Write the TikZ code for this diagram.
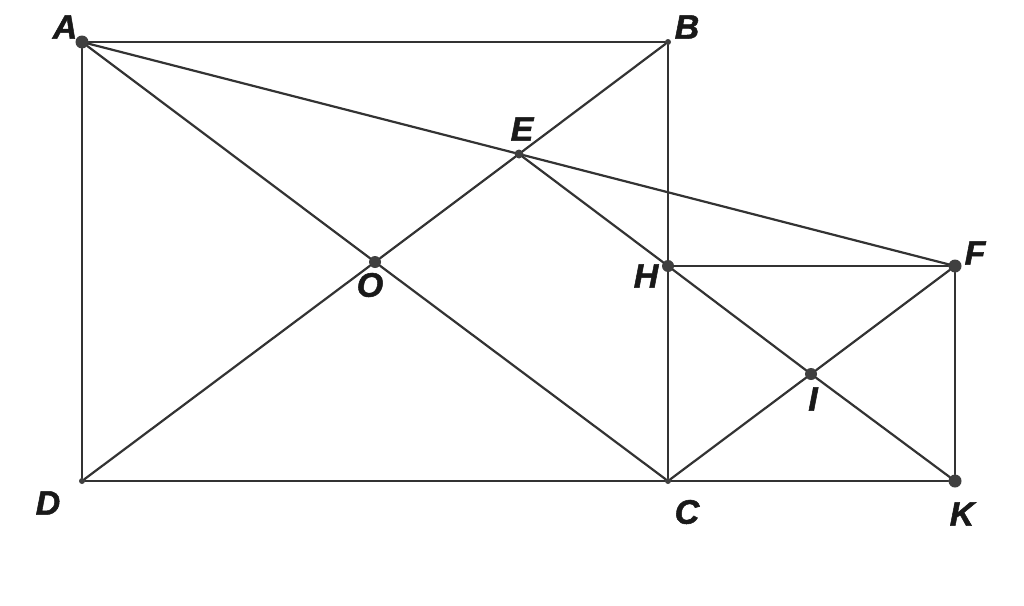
\documentclass[tikz,border=0pt]{standalone}
\usepackage{fontspec}
\setmainfont{Liberation Sans}
\newfontfamily\lblfont{Liberation Sans}[UprightFont=* Bold Italic, FakeBold=1.5]
\tikzset{
    pt/.style={circle, fill=black!75, inner sep=0pt, minimum size=#1},
    lbl/.style={font=\fontsize{34}{34}\lblfont, text=black!90},
    seg/.style={line width=2.2pt, black!80}
}
\begin{document}
\begin{tikzpicture}[x=1pt, y=-1pt, cap=round]
    \useasboundingbox (0, 0) rectangle (1024, 605);
    \node[pt=13pt] (A) at (82, 42) {};
    \node[pt=6pt] (B) at (668, 42) {};
    \node[pt=6pt] (C) at (668, 481) {};
    \node[pt=6pt] (D) at (82, 481) {};
    \node[pt=12pt] (O) at (375, 262) {};
    \node[pt=9pt] (E) at (519, 154) {};
    \node[pt=12pt] (H) at (668, 266) {};
    \node[pt=13pt] (F) at (955, 266) {};
    \node[pt=13pt] (K) at (955, 481) {};
    \node[pt=12pt] (I) at (811, 374) {};
    \draw[seg] (A)--(B);
    \draw[seg] (B)--(H);
    \draw[seg] (H)--(C);
    \draw[seg] (C)--(D);
    \draw[seg] (D)--(A);
    \draw[seg] (A)--(O);
    \draw[seg] (O)--(C);
    \draw[seg] (D)--(O);
    \draw[seg] (O)--(E);
    \draw[seg] (E)--(B);
    \draw[seg] (A)--(E);
    \draw[seg] (E)--(F);
    \draw[seg] (E)--(H);
    \draw[seg] (H)--(I);
    \draw[seg] (I)--(K);
    \draw[seg] (H)--(F);
    \draw[seg] (F)--(K);
    \draw[seg] (C)--(K);
    \draw[seg] (C)--(I);
    \draw[seg] (I)--(F);
    \node[lbl] (lA) at (65, 27) {A};
    \node[lbl] (lB) at (687, 27) {B};
    \node[lbl] (lC) at (687, 512) {C};
    \node[lbl] (lD) at (48, 503) {D};
    \node[lbl] (lE) at (522, 129) {E};
    \node[lbl] (lF) at (975, 253) {F};
    \node[lbl] (lH) at (646, 276) {H};
    \node[lbl] (lI) at (813, 399) {I};
    \node[lbl] (lK) at (962, 514) {K};
    \node[lbl] (lO) at (370, 285) {O};
\end{tikzpicture}
\end{document}
